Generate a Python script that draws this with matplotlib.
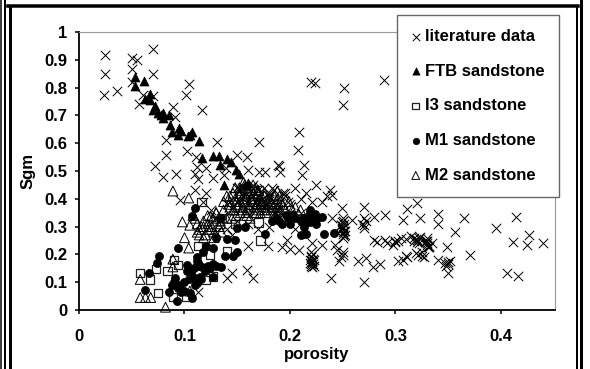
import matplotlib
matplotlib.use("Agg")
import matplotlib.pyplot as plt
from matplotlib.lines import Line2D

plt.rcParams['font.family'] = ['Liberation Sans', 'DejaVu Sans']

lit_x = [.025, .025, .024, .036, .05, .055, .05, .05, .07, .07,
         .07, .061, .057, .089, .091, .104, .101, .117, .082, .082,
         .072, .08, .092, .102, .111, .112, .11, .113, .12, .127,
         .131, .15, .159, .16, .139, .137, .171, .171, .176, .19,
         .191, .208, .209, .189, .213, .211, .22, .224, .251, .25,
         .289, .32, .311, .34, .34, .323, .307, .29, .28, .27,
         .365, .356, .395, .414, .427, .425, .411, .44, .406, .416,
         .371, .349, .35, .35, .34, .27, .239, .264, .272, .279,
         .285, .302, .311, .321, .327, .32, .322, .318, .33, .332,
         .328, .28, .282, .29, .292, .3, .302, .298, .25, .252,
         .248, .25, .251, .249, .221, .219, .222, .22, .223, .221,
         .22, .25, .246, .248, .25, .238, .24, .23, .221, .249,
         .24, .25, .259, .27, .27, .268, .272, .27, .23, .243,
         .245, .209, .113, .14, .145, .159, .165, .16, .179, .192,
         .197, .2, .11, .096, .12, .305, .31, .315, .325, .33,
         .13, .14, .15, .16, .17, .18, .19, .2, .21, .14,
         .165, .175, .185, .195, .205, .215, .225, .235, .18, .19,
         .2, .21, .15, .155, .125, .118, .145, .13, .205, .31,
         .307, .3, .35, .347, .352, .348, .325, .319, .33, .335,
         .319, .321, .323, .32, .318, .322, .33, .331, .329, .332,
         .25, .249, .251, .25, .248, .252, .25, .249, .251, .25,
         .22, .221, .222, .22, .219, .223, .221, .22, .222, .221,
         .15, .155, .16, .165, .17, .175, .18, .185, .19, .195,
         .152, .158, .163, .168, .173, .178, .183, .188, .193, .198]
lit_y = [.917, .849, .773, .788, .906, .9, .867, .82, .939, .849,
         .77, .773, .741, .73, .694, .813, .773, .72, .612, .558,
         .518, .478, .489, .572, .55, .514, .49, .47, .51, .475,
         .604, .558, .55, .503, .51, .485, .604, .496, .496, .518,
         .496, .576, .64, .52, .52, .486, .82, .816, .80, .737,
         .827, .385, .363, .344, .309, .33, .323, .34, .334, .37,
         .33, .28, .295, .334, .27, .234, .245, .24, .133, .122,
         .198, .227, .133, .173, .18, .10, .115, .176, .187, .155,
         .165, .176, .19, .198, .19, .252, .24, .26, .234, .225,
         .245, .252, .245, .252, .24, .245, .25, .235, .295, .285,
         .305, .275, .265, .315, .172, .18, .165, .19, .16, .24,
         .21, .198, .176, .19, .21, .43, .414, .39, .39, .367,
         .33, .33, .324, .33, .295, .31, .32, .305, .234, .234,
         .216, .216, .065, .115, .133, .144, .115, .23, .23, .227,
         .252, .22, .432, .396, .42, .26, .255, .265, .195, .26,
         .33, .29, .32, .31, .29, .3, .33, .35, .4, .38,
         .45, .44, .43, .42, .44, .42, .45, .41, .41, .39,
         .38, .35, .44, .41, .36, .39, .27, .28, .29, .195,
         .18, .25, .165, .17, .175, .16, .21, .205, .25, .24,
         .255, .247, .262, .244, .25, .258, .24, .228, .248, .232,
         .3, .29, .31, .28, .305, .27, .32, .295, .285, .26,
         .165, .175, .185, .195, .17, .18, .175, .16, .2, .155,
         .39, .42, .38, .41, .43, .37, .42, .39, .36, .41,
         .44, .37, .43, .39, .4, .38, .44, .36, .42, .39]

ftb_x = [.053, .053, .062, .067, .063, .067, .072, .07, .075, .078,
         .08, .085, .08, .086, .095, .088, .094, .097, .103, .107,
         .105, .114, .117, .127, .133, .134, .14, .144, .149, .152,
         .16, .157, .137]
ftb_y = [.838, .805, .824, .777, .76, .755, .734, .72, .71, .7,
         .71, .7, .69, .665, .655, .64, .63, .645, .626, .64,
         .63, .608, .547, .553, .553, .522, .543, .532, .503, .489,
         .457, .45, .45]

i3_x = [.058, .067, .073, .075, .084, .09, .094, .12, .102, .124,
        .113, .116, .17, .172, .17, .14, .127, .089, .148, .135]
i3_y = [.133, .11, .147, .06, .14, .18, .162, .108, .047, .2,
        .23, .388, .432, .25, .315, .21, .12, .047, .31, .33]

m1_x = [.076, .074, .066, .063, .093, .107, .094, .085, .091, .097,
        .1, .102, .112, .12, .11, .107, .135, .13, .14, .148,
        .15, .157, .176, .138, .146, .15, .127, .135, .127, .117,
        .127, .112, .115, .106, .088, .094, .1, .102, .108, .113,
        .187, .196, .219, .219, .23, .21, .21, .215, .232, .242,
        .205, .2, .19, .225, .213, .22, .118, .122, .11, .105,
        .215, .222, .226, .218, .212, .224, .198, .203, .192, .183,
        .104, .109, .114, .119, .124, .13, .096, .09, .112, .116]
m1_y = [.194, .169, .133, .072, .032, .043, .223, .065, .115, .065,
        .1, .162, .19, .23, .367, .337, .33, .26, .255, .252,
        .295, .3, .273, .194, .194, .21, .223, .155, .165, .155,
        .12, .097, .12, .135, .09, .08, .07, .14, .12, .17,
        .33, .34, .316, .36, .335, .32, .27, .273, .273, .277,
        .33, .31, .32, .31, .3, .34, .21, .16, .09, .06,
        .32, .32, .33, .34, .33, .345, .33, .34, .31, .32,
        .11, .15, .16, .14, .15, .16, .09, .1, .175, .11]

m2_x = [.058, .058, .063, .068, .082, .089, .104, .098, .105, .1,
        .104, .089, .089, .105, .188, .108, .112, .118, .112, .122,
        .125, .13, .118, .114, .116, .122, .128, .133, .127, .135,
        .13, .137, .14, .143, .146, .149, .152, .155, .158, .161,
        .164, .167, .17, .173, .176, .179, .182, .185, .188, .191,
        .134, .137, .14, .143, .146, .149, .152, .155, .158, .161,
        .164, .167, .17, .173, .176, .179, .182, .185, .188, .191,
        .145, .148, .151, .154, .157, .16, .163, .166, .169, .172,
        .175, .178, .181, .184, .187, .19, .193, .196, .199, .202,
        .15, .153, .156, .159, .162, .165, .168, .17, .205, .21,
        .142, .147, .152, .156, .16, .164, .168, .172, .176, .18,
        .143, .148, .153, .157, .161, .165, .169, .173, .177, .181,
        .11, .114, .118, .122, .126, .13, .134, .12, .124, .128]
m2_y = [.11, .045, .045, .045, .01, .428, .403, .317, .305, .26,
        .223, .183, .155, .068, .428, .34, .31, .3, .28, .29,
        .335, .32, .26, .27, .3, .31, .28, .3, .33, .28,
        .35, .39, .41, .37, .42, .39, .44, .36, .41, .38,
        .43, .37, .42, .39, .36, .4, .36, .41, .37, .39,
        .32, .36, .33, .39, .36, .34, .41, .37, .35, .42,
        .39, .41, .36, .38, .41, .37, .39, .35, .4, .36,
        .33, .4, .38, .43, .4, .36, .4, .35, .39, .35,
        .38, .35, .4, .37, .35, .41, .38, .36, .39, .36,
        .37, .35, .46, .34, .33, .45, .35, .43, .37, .36,
        .38, .36, .42, .39, .43, .4, .44, .38, .42, .38,
        .41, .44, .39, .45, .37, .42, .38, .41, .37, .4,
        .33, .29, .32, .34, .3, .35, .31, .27, .29, .26]

tick_x = [0, 0.1, 0.2, 0.3, 0.4]
tick_x_labels = ['0', '0.1', '0.2', '0.3', '0.4']
tick_y = [0, 0.1, 0.2, 0.3, 0.4, 0.5, 0.6, 0.7, 0.8, 0.9, 1]
tick_y_labels = ['0', '0.1', '0.2', '0.3', '0.4', '0.5', '0.6', '0.7', '0.8', '0.9', '1']

W, H = 590, 369
fig = plt.figure(figsize=(W / 100, H / 100), dpi=100)

# page border: lines at the sides, thick one along the top, nothing at the bottom
for xs, ys, lw in [([0.5, 0.5], [0, H], 1.5), ([5, 5], [0, H], 2), ([9.5, 9.5], [5.5, H], 3),
                   ([8, 578], [5.5, 5.5], 3.5), ([577, 577], [5.5, H], 2), ([580.5, 580.5], [0, H], 3)]:
    fig.add_artist(Line2D([x / W for x in xs], [1 - y / H for y in ys], color='black',
                          lw=lw * 0.72, transform=fig.transFigure))

ax = fig.add_axes([79 / W, 1 - 310 / H, (555 - 79) / W, (310 - 32) / H])
ax.set_xlim(0, 0.4512)
ax.set_ylim(0, 1)

ax.scatter(lit_x, lit_y, marker='x', s=46, c='black', lw=0.7, label='literature data', clip_on=False)
ax.scatter(ftb_x, ftb_y, marker='^', s=42, c='black', lw=0.5, label='FTB sandstone', clip_on=False)
ax.scatter(i3_x, i3_y, marker='s', s=36, facecolors='none', edgecolors='#222222', lw=0.9,
           label='I3 sandstone', clip_on=False)
ax.scatter(m1_x, m1_y, marker='o', s=34, c='black', lw=0.5, label='M1 sandstone', clip_on=False)
ax.scatter(m2_x, m2_y, marker='^', s=50, facecolors='none', edgecolors='black', lw=0.7,
           label='M2 sandstone', clip_on=False)

ax.spines['top'].set_color('#999999')
ax.spines['right'].set_color('#999999')
ax.spines['left'].set_linewidth(1.3)
ax.spines['bottom'].set_linewidth(1.3)
ax.set_xticks(tick_x)
ax.set_xticklabels(tick_x_labels)
ax.set_yticks(tick_y)
ax.set_yticklabels(tick_y_labels)
ax.tick_params(direction='out', length=3, width=1.1, pad=5.5, labelsize=12)
ax.tick_params(axis='x', pad=11)
for t in ax.get_xticklabels() + ax.get_yticklabels():
    t.set_fontweight('bold')
ax.set_xlabel('porosity', fontsize=12, fontweight='bold', va='center')
ax.set_ylabel('Sgm', fontsize=12, fontweight='bold', va='center')
ax.xaxis.set_label_coords(0.5, -45 / 278)
ax.yaxis.set_label_coords(-51 / 476, 0.5)

leg = fig.legend(loc='upper left', bbox_to_anchor=(397 / W, 1 - 15 / H), bbox_transform=fig.transFigure,
                 frameon=True, fancybox=False, edgecolor='#666666', framealpha=1,
                 prop={'size': 12, 'weight': 'bold'}, labelspacing=1.18, handletextpad=0.3,
                 borderpad=0.85, borderaxespad=0, scatterpoints=1, handlelength=0.55, markerscale=0.8)
leg.get_frame().set_linewidth(1.0)

fig.savefig('out.png', dpi=100)
